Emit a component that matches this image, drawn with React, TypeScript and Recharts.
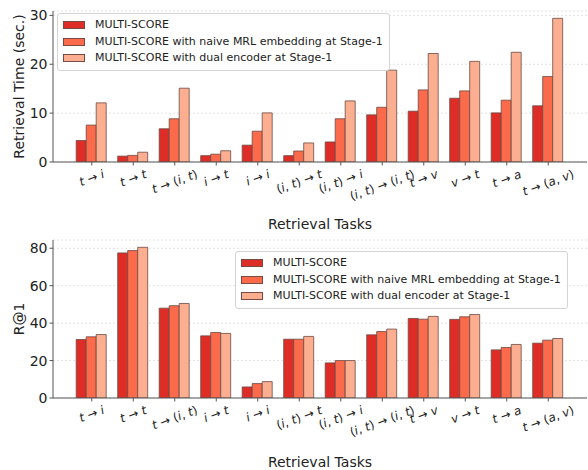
import { BarChart, Bar, XAxis, YAxis, CartesianGrid } from 'recharts';

const tasks = ['t → i', 't → t', 't → (i, t)', 'i → t', 'i → i', '(i, t) → t', '(i, t) → i', '(i, t) → (i, t)', 't → v', 'v → t', 't → a', 't → (a, v)'];

// retrieval time (sec.)
const timeBase = [4.4, 1.2, 6.8, 1.3, 3.45, 1.3, 4.1, 9.65, 10.4, 13.05, 10.05, 11.5];
const timeMrl = [7.55, 1.35, 8.85, 1.6, 6.3, 2.25, 8.85, 11.2, 14.75, 14.55, 12.65, 17.5];
const timeDual = [12.1, 2.0, 15.1, 2.3, 10.05, 3.9, 12.5, 18.8, 22.2, 20.6, 22.45, 29.4];

// R@1
const r1Base = [31.25, 77.5, 48.0, 33.2, 5.9, 31.4, 18.75, 33.75, 42.5, 42.0, 25.7, 29.3];
const r1Mrl = [32.7, 78.75, 49.3, 35.0, 7.7, 31.4, 20.0, 35.5, 42.1, 43.4, 27.0, 30.9];
const r1Dual = [33.9, 80.5, 50.5, 34.5, 8.75, 32.9, 20.0, 36.8, 43.6, 44.6, 28.6, 31.8];

const seriesNames = ['MULTI-SCORE', 'MULTI-SCORE with naive MRL embedding at Stage-1', 'MULTI-SCORE with dual encoder at Stage-1'];
const timeTicks = [0, 10, 20, 30];
const r1Ticks = [0, 20, 40, 60, 80];

const colors = ['#de2d26', '#fb6a4a', '#fcae91'];
const FONT = 'DejaVu Sans, sans-serif';
const SPINE = '#555';

const timeData = tasks.map((t, i) => ({ task: t, a: timeBase[i], b: timeMrl[i], c: timeDual[i] }));
const r1Data = tasks.map((t, i) => ({ task: t, a: r1Base[i], b: r1Mrl[i], c: r1Dual[i] }));

const charW: Record<string, number> = { t: 0.392, i: 0.278, a: 0.613, v: 0.592, '→': 0.838, '(': 0.39, ')': 0.39, ',': 0.318, ' ': 0.318 };

function TaskTick(props: any) {
  const { x, y, payload } = props;
  const s: string = payload.value;
  const fs = 12;
  const w = s.split('').reduce((acc, ch) => acc + (charW[ch] ?? 0.6), 0) * fs;
  const ang = (20 * Math.PI) / 180;
  const H = w * Math.sin(ang) + fs * Math.cos(ang);
  const cy = y + H / 2;
  return (
    <text x={x} y={cy} textAnchor="middle" dominantBaseline="central" fontFamily={FONT} fontSize={fs} fill="#222" transform={`rotate(-20 ${x} ${cy})`}>
      {s.split('').map((ch, i) => (
        <tspan key={i} fontStyle={/[a-z]/.test(ch) ? 'italic' : 'normal'}>{ch}</tspan>
      ))}
    </text>
  );
}

function LegendBox({ left, top }: { left: number; top: number }) {
  return (
    <div style={{ position: 'absolute', left, top, background: 'rgba(255,255,255,0.85)', border: '1px solid #d4d4d4', borderRadius: 3, padding: '3px 6px 3px 5px', fontFamily: FONT, fontSize: 11, color: '#222', lineHeight: '16.5px' }}>
      {seriesNames.map((n, i) => (
        <div key={n} style={{ display: 'flex', alignItems: 'center', whiteSpace: 'nowrap' }}>
          <span style={{ width: 22, height: 8, background: colors[i], border: '1px solid #7a4a42', marginRight: 10, boxSizing: 'border-box' }} />
          {n}
        </div>
      ))}
    </div>
  );
}

function Panel({ data, ticks, yMax, yLabel, height, top, xAxisH }: any) {
  const plotH = height - top - xAxisH;
  const labelY = top + plotH / 2;
  return (
    <BarChart width={588} height={height} data={data} margin={{ top, right: 1, bottom: 0, left: 0 }} barCategoryGap={5.2} barGap={0}>
      <CartesianGrid vertical={false} stroke="#e2e2e2" strokeDasharray="2 2" />
      <XAxis
        dataKey="task"
        interval={0}
        height={xAxisH}
        padding={{ left: 18, right: 18 }}
        stroke={SPINE}
        tickSize={3.5}
        tickMargin={2.5}
        tick={<TaskTick />}
        label={{ value: 'Retrieval Tasks', position: 'insideBottom', offset: 3.5, fontSize: 14, fontFamily: FONT, fill: '#222' }}
      />
      <XAxis xAxisId="top" orientation="top" dataKey="task" height={0} tick={false} tickLine={false} stroke={SPINE} />
      <YAxis
        width={53}
        domain={[0, yMax]}
        ticks={ticks}
        allowDataOverflow
        stroke={SPINE}
        tickSize={3.5}
        tickMargin={2}
        tick={{ fontSize: 14, fontFamily: FONT, fill: '#222' }}
        label={{
          value: yLabel,
          content: () => (
            <text x={19} y={labelY} textAnchor="middle" dominantBaseline="central" fontFamily={FONT} fontSize={14} fill="#222" transform={`rotate(-90 19 ${labelY})`}>
              {yLabel}
            </text>
          ),
        }}
      />
      <YAxis yAxisId="right" orientation="right" width={0} domain={[0, yMax]} tick={false} tickLine={false} stroke={SPINE} />
      <Bar dataKey="a" name={seriesNames[0]} fill={colors[0]} stroke="#6a4a44" strokeWidth={0.8} isAnimationActive={false} />
      <Bar dataKey="b" name={seriesNames[1]} fill={colors[1]} stroke="#6a4a44" strokeWidth={0.8} isAnimationActive={false} />
      <Bar dataKey="c" name={seriesNames[2]} fill={colors[2]} stroke="#6a4a44" strokeWidth={0.8} isAnimationActive={false} />
    </BarChart>
  );
}

export default function App() {
  return (
    <div style={{ position: 'absolute', left: 0, top: 0, width: 588, height: 470, background: '#fff' }}>
      <div style={{ position: 'absolute', left: 0, top: 0 }}>
        <Panel data={timeData} ticks={timeTicks} yMax={30.9} yLabel="Retrieval Time (sec.)" height={232} top={11} xAxisH={70} />
        <LegendBox left={57} top={13} />
      </div>
      <div style={{ position: 'absolute', left: 0, top: 232 }}>
        <Panel data={r1Data} ticks={r1Ticks} yMax={84.4} yLabel="R@1" height={238} top={8} xAxisH={72} />
        <LegendBox left={235} top={19} />
      </div>
    </div>
  );
}
